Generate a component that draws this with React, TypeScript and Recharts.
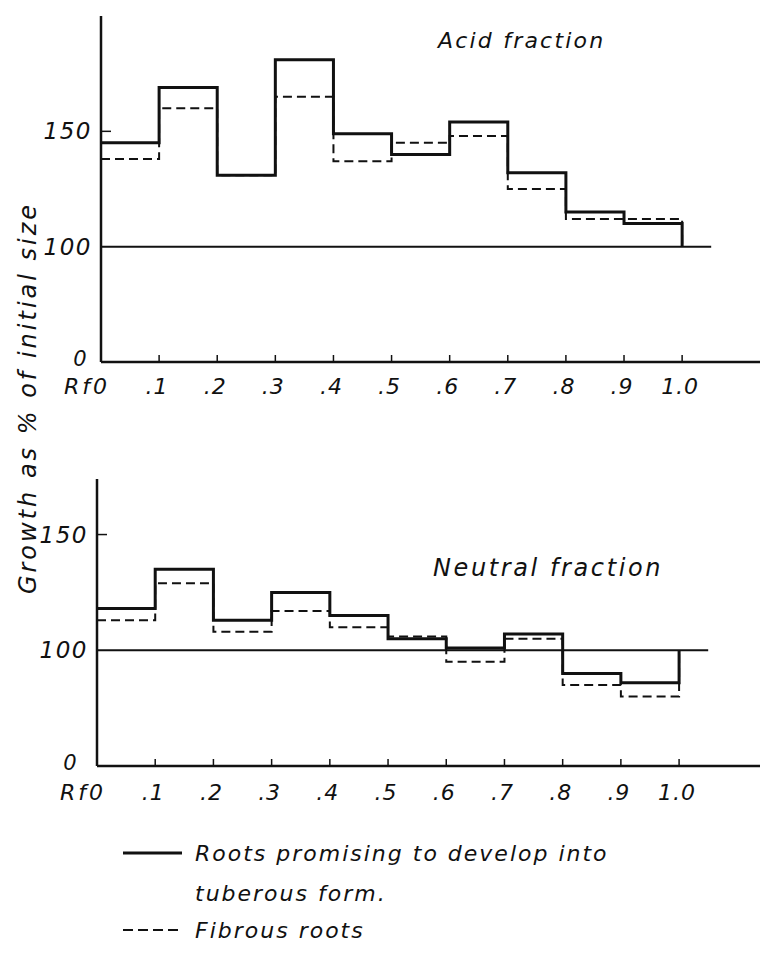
import { LineChart, Line, XAxis, YAxis, ReferenceLine } from 'recharts';

// Rf bin edges and the x tick labels
const RF_EDGES = [0, 0.1, 0.2, 0.3, 0.4, 0.5, 0.6, 0.7, 0.8, 0.9, 1.0];
const RF_LABELS = ['Rf0', '.1', '.2', '.3', '.4', '.5', '.6', '.7', '.8', '.9', '1.0'];

// growth as % of initial size, one value per Rf bin (0-.1, .1-.2, ... .9-1.0)
const ACID_TUBEROUS = [145, 169, 131, 181, 149, 140, 154, 132, 115, 110];
const ACID_FIBROUS = [138, 160, 131, 165, 137, 145, 148, 125, 112, 112];
const NEUTRAL_TUBEROUS = [118, 135, 113, 125, 115, 105, 101, 107, 90, 86];
const NEUTRAL_FIBROUS = [113, 129, 108, 117, 110, 106, 95, 105, 85, 80];

const BASELINE = 100;
const Y_TICKS = [50, 100, 150];
const Y_LABELS: Record<number, string> = { 50: '0', 100: '100', 150: '150' };

const FONT = '"DejaVu Sans", sans-serif';
const INK = '#111';

function buildRows(tuberous: number[], fibrous: number[]) {
  const rows = tuberous.map((t, i) => ({ rf: RF_EDGES[i], tuberous: t, fibrous: fibrous[i] }));
  // close the histogram back onto the 100 line at Rf 1.0
  rows.push({ rf: RF_EDGES[RF_EDGES.length - 1], tuberous: BASELINE, fibrous: BASELINE });
  return rows;
}

const acidRows = buildRows(ACID_TUBEROUS, ACID_FIBROUS);
const neutralRows = buildRows(NEUTRAL_TUBEROUS, NEUTRAL_FIBROUS);

function makeXTick(labelDy: number) {
  return function XTick(props: any) {
    const { x, y, payload } = props;
    const i = RF_EDGES.indexOf(payload.value);
    const label = RF_LABELS[i] ?? '';
    const isZero = payload.value === 0;
    return (
      <g>
        {!isZero && <line x1={x} x2={x} y1={y} y2={y - 7} stroke={INK} strokeWidth={1.5} />}
        <text
          x={isZero ? x + 9 : x - 2}
          y={y + labelDy}
          textAnchor={isZero ? 'end' : 'middle'}
          fontFamily={FONT}
          fontStyle="italic"
          fontSize={22}
          letterSpacing={isZero ? 3 : 1}
          fill={INK}
        >
          {label}
        </text>
      </g>
    );
  };
}

function makeYTick(zeroShift: number) {
  return function YTick(props: any) {
    const { x, y, payload } = props;
    const isZero = payload.value === 50;
    return (
      <g>
        {payload.value === 150 && <line x1={x} x2={x + 10} y1={y} y2={y} stroke={INK} strokeWidth={1.5} />}
        <text
          x={x - 9 - (isZero ? zeroShift : 0)}
          y={y + (isZero ? 4 : 8)}
          textAnchor="end"
          fontFamily={FONT}
          fontStyle="italic"
          fontSize={isZero ? 21 : 23}
          letterSpacing={1.5}
          fill={INK}
        >
          {Y_LABELS[payload.value]}
        </text>
      </g>
    );
  };
}

interface PanelProps {
  data: { rf: number; tuberous: number; fibrous: number }[];
  height: number;
  top: number;
  axisLeft: number;
  yMax: number;
  xMax: number;
  labelDy: number;
  zeroShift: number;
}

function FractionPanel({ data, height, top, axisLeft, yMax, xMax, labelDy, zeroShift }: PanelProps) {
  return (
    <LineChart width={760} height={height} data={data} margin={{ top, right: 0, bottom: 0, left: 0 }}>
      <XAxis
        type="number"
        dataKey="rf"
        domain={[0, xMax]}
        ticks={RF_EDGES}
        allowDataOverflow
        height={38}
        tickLine={false}
        tickSize={0}
        tickMargin={0}
        axisLine={{ stroke: INK, strokeWidth: 2.5 }}
        tick={makeXTick(labelDy)}
        interval={0}
      />
      <YAxis
        type="number"
        domain={[50, yMax]}
        ticks={Y_TICKS}
        allowDataOverflow
        width={axisLeft}
        tickLine={false}
        tickSize={0}
        tickMargin={0}
        axisLine={{ stroke: INK, strokeWidth: 2.5 }}
        tick={makeYTick(zeroShift)}
        interval={0}
      />
      <ReferenceLine
        segment={[
          { x: 0, y: BASELINE },
          { x: 1.05, y: BASELINE },
        ]}
        stroke={INK}
        strokeWidth={2}
      />
      <Line
        type="stepAfter"
        dataKey="fibrous"
        stroke={INK}
        strokeWidth={2}
        strokeDasharray="9 5"
        dot={false}
        activeDot={false}
        isAnimationActive={false}
      />
      <Line
        type="stepAfter"
        dataKey="tuberous"
        stroke={INK}
        strokeWidth={3}
        dot={false}
        activeDot={false}
        isAnimationActive={false}
      />
    </LineChart>
  );
}

export default function App() {
  const textStyle = { fontFamily: FONT, fontStyle: 'italic' as const, fill: INK };
  return (
    <div style={{ position: 'absolute', left: 0, top: 0, width: 760, height: 956, background: '#fff' }}>
      <div style={{ position: 'absolute', left: 0, top: 0 }}>
        <FractionPanel
          data={acidRows}
          height={400}
          top={16}
          axisLeft={101}
          yMax={200}
          xMax={1.134}
          labelDy={32}
          zeroShift={4}
        />
      </div>
      <div style={{ position: 'absolute', left: 0, top: 440 }}>
        <FractionPanel
          data={neutralRows}
          height={364}
          top={39}
          axisLeft={97}
          yMax={174}
          xMax={1.139}
          labelDy={34}
          zeroShift={10}
        />
      </div>
      <svg width={760} height={956} style={{ position: 'absolute', left: 0, top: 0, pointerEvents: 'none' }}>
        <text x={438} y={48} fontSize={22} letterSpacing={2.2} {...textStyle}>
          Acid fraction
        </text>
        <text x={433} y={576} fontSize={24} letterSpacing={2.6} {...textStyle}>
          Neutral fraction
        </text>
        <text
          x={0}
          y={0}
          fontSize={24}
          letterSpacing={3}
          textAnchor="middle"
          transform="translate(36 398) rotate(-90)"
          {...textStyle}
        >
          Growth as % of initial size
        </text>
        <line x1={123} x2={182} y1={853} y2={853} stroke={INK} strokeWidth={3} />
        <text x={195} y={861} fontSize={22} letterSpacing={2} {...textStyle}>
          Roots promising to develop into
        </text>
        <text x={195} y={901} fontSize={22} letterSpacing={2} {...textStyle}>
          tuberous form.
        </text>
        <line x1={123} x2={180} y1={930} y2={930} stroke={INK} strokeWidth={2} strokeDasharray="10 5" />
        <text x={195} y={938} fontSize={22} letterSpacing={2} {...textStyle}>
          Fibrous roots
        </text>
      </svg>
    </div>
  );
}
